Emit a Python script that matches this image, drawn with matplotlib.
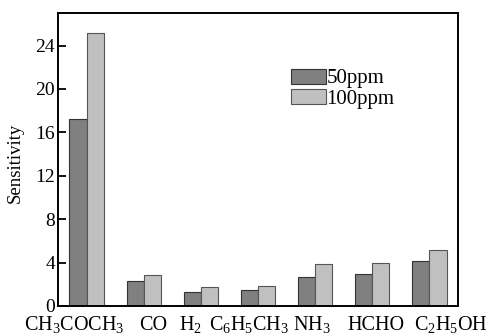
import matplotlib
matplotlib.use('Agg')
import matplotlib.pyplot as plt
import matplotlib.transforms as mtransforms
import numpy as np

plt.rcParams['font.family'] = 'Liberation Serif'
plt.rcParams['mathtext.fontset'] = 'custom'
plt.rcParams['mathtext.rm'] = 'Liberation Serif'
plt.rcParams['mathtext.it'] = 'Liberation Serif:italic'

gases = ['CH$_3$COCH$_3$', 'CO', 'H$_2$', 'C$_6$H$_5$CH$_3$', 'NH$_3$', 'HCHO', 'C$_2$H$_5$OH']
ppm50 = [17.2, 2.28, 1.26, 1.51, 2.65, 2.98, 4.15]
ppm100 = [25.2, 2.83, 1.72, 1.82, 3.85, 3.94, 5.2]

x = np.arange(len(gases))
w = 0.30
# labels in the original are not centred under their groups
label_shift = [-0.21, 0.16, -0.19, -0.16, -0.05, 0.07, 0.38]

fig = plt.figure(figsize=(4.92, 3.34), dpi=100)
ax = fig.add_axes([58 / 492, 1 - 306 / 334, 400 / 492, 293 / 334])

ax.bar(x - w / 2, ppm50, w, color='#808080', edgecolor='#333333', linewidth=0.8, label='50ppm')
ax.bar(x + w / 2, ppm100, w, color='#c0c0c0', edgecolor='#555555', linewidth=0.8, label='100ppm')

ax.set_xlim(-0.5, 6.5)
ax.set_ylim(0, 27)
ax.set_yticks([0, 4, 8, 12, 16, 20, 24])
ax.set_xticks([])
ax.tick_params(axis='y', direction='in', length=6, width=1.3, labelsize=14, pad=2)

trans = mtransforms.blended_transform_factory(ax.transData, ax.transAxes)
for xi, sh, g in zip(x, label_shift, gases):
    ax.text(xi + sh, -0.082, g, transform=trans, ha='center', va='baseline', fontsize=14.5)

ax.set_ylabel('Sensitivity', fontsize=13.5)
ax.yaxis.set_label_coords(-0.085, 0.49)
for s in ax.spines.values():
    s.set_linewidth(1.4)

ax.legend(loc='upper left', bbox_to_anchor=(0.5825, 0.81), frameon=False, fontsize=15,
          handlelength=1.7, handleheight=0.72, handletextpad=0.0, labelspacing=0.05,
          borderaxespad=0, borderpad=0)

fig.savefig('out.png', dpi=100)
